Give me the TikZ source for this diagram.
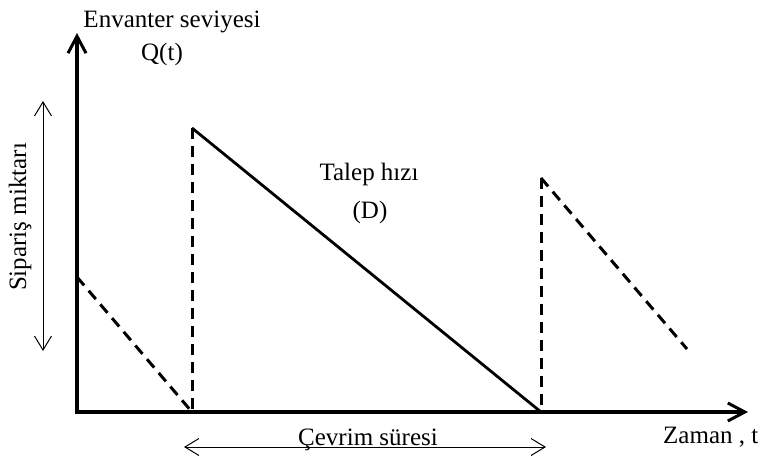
\documentclass[tikz,border=0pt]{standalone}
\usepackage{fontspec}
\setmainfont{Liberation Serif}
\usetikzlibrary{arrows.meta}
\begin{document}
\begin{tikzpicture}[x=1pt,y=-1pt,
  axis/.style={line width=3.2pt,-{Straight Barb[length=17pt,width=18pt,line width=3pt]}},
  dline/.style={line width=3pt,dash pattern=on 11pt off 7pt},
  sline/.style={line width=2.8pt},
  dimarrow/.style={line width=1pt,{Straight Barb[length=14pt,width=17pt,line width=1pt]}-{Straight Barb[length=14pt,width=17pt,line width=1pt]}},
  lbl/.style={inner sep=0pt,font=\fontsize{25}{30}\selectfont}]
\useasboundingbox (0,0) rectangle (766,458);
\coordinate (O) at (77,412);
\coordinate (ytop) at (77,33);
\coordinate (xend) at (748,412);
\coordinate (A1) at (77,277);
\coordinate (B1) at (192,412);
\coordinate (B1t) at (192,128);
\coordinate (C1) at (541,412);
\coordinate (C1t) at (541,178);
\coordinate (D1) at (687,349);
\coordinate (L1) at (43,101);
\coordinate (L2) at (43,351);
\coordinate (M1) at (184,447);
\coordinate (M2) at (546,447);
% axes
\draw[axis] ([yshift=1.6pt]O) -- (ytop);
\draw[axis] ([xshift=-1.6pt]O) -- (xend);
% curves
\draw[dline] (A1) -- (B1);
\draw[dline] (B1t) -- (B1);
\draw[sline] (B1t) -- (C1);
\draw[dline] (C1t) -- (C1);
\draw[dline] (C1t) -- (D1);
% dimension arrows
\draw[dimarrow] (L1) -- (L2);
\draw[dimarrow] (M1) -- (M2);
% labels
\node[lbl,anchor=base] (env) at (172,27) {Envanter seviyesi};
\node[lbl,anchor=base] (qt) at (162,60) {Q(t)};
\node[lbl,anchor=base] (talep) at (369,180) {Talep hızı};
\node[lbl,anchor=base] (dd) at (370,218) {(D)};
\node[lbl,anchor=base] (cevrim) at (368,445) {Çevrim süresi};
\node[lbl,anchor=base west] (zaman) at (663,443) {Zaman , t};
\node[lbl,rotate=90] (sip) at (20,217) {Sipariş miktarı};
\end{tikzpicture}
\end{document}
